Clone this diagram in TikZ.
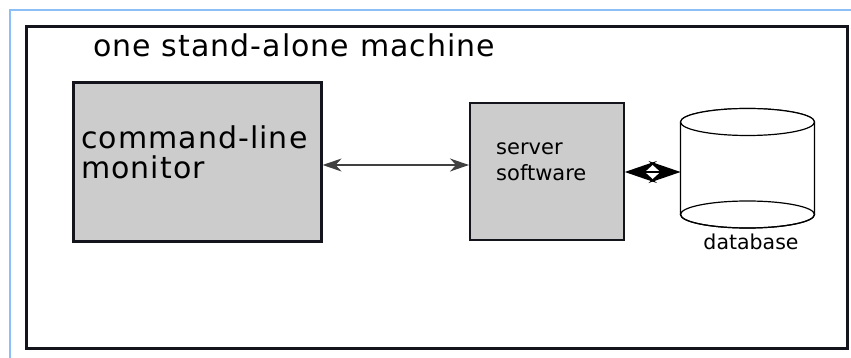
\documentclass[tikz,border=0pt]{standalone}
\usepackage{fontspec}
\setmainfont{DejaVu Sans}
\newfontfamily\spacedface[LetterSpace=3.5]{DejaVu Sans}
\usetikzlibrary{arrows.meta,calc}

\definecolor{framesky}{RGB}{140,190,248}
\definecolor{boxgray}{RGB}{204,204,204}
\definecolor{inkdark}{RGB}{20,20,28}

\tikzset{
  procbox/.style={draw=inkdark, fill=boxgray, inner sep=0pt, anchor=north west},
  boxtext/.style={anchor=base west, inner sep=0pt, align=left},
  bigtext/.style={font=\spacedface\fontsize{30}{30}\selectfont},
  thinlink/.style={draw=black!75, line width=1.3pt,
    {Stealth[length=19pt,width=13pt,inset=6pt]}-{Stealth[length=19pt,width=13pt,inset=6pt]}},
  heavylink/.style={draw=black, line width=1.3pt,
    {Stealth[length=32pt,width=22pt,inset=12pt]}-{Stealth[length=32pt,width=22pt,inset=12pt]}},
  drum/.style={draw=black, line width=1.2pt, fill=white}
}

\begin{document}
\begin{tikzpicture}[x=1pt,y=-1pt]
  \useasboundingbox (0,0) rectangle (851,358);

  % page frame and machine boundary
  \draw[framesky, line width=2pt] (9.5,10.5) rectangle (870,380);
  \node[draw=inkdark, line width=2.6pt, inner sep=0pt, anchor=north west,
        minimum width=821pt, minimum height=322pt] (machine) at (25,25) {};
  \node[boxtext, bigtext] (title) at (93,56.7)
    {one stand-alone machine};

  % command-line monitor (base anchor sits on the last line)
  \node[procbox, line width=2.6pt, minimum width=248pt, minimum height=159pt]
    (monitor) at (72,81) {};
  \node[boxtext, bigtext] (monitortext) at (81,179)
    {command-line\\monitor};

  % server software
  \node[procbox, line width=1.8pt, minimum width=154pt, minimum height=137pt]
    (server) at (469,102) {};
  \node[boxtext, font=\fontsize{21}{26}\selectfont] (servertext) at (496,181)
    {server\\software};

  % database cylinder
  \path[drum] (680.5,122) -- (680.5,214.5)
    arc[start angle=180, end angle=360, x radius=67pt, y radius=13.5pt]
    -- (814.5,122)
    arc[start angle=0, end angle=180, x radius=67pt, y radius=13.5pt] -- cycle;
  \draw[drum] (747.5,122) ellipse[x radius=67pt, y radius=13.5pt];
  \draw[drum, fill=none] (747.5,214.5) ellipse[x radius=67pt, y radius=13.5pt];
  \coordinate (dbwest) at (680.5,168);
  \node[anchor=base, inner sep=0pt, font=\fontsize{20.5}{24}\selectfont]
    (dblabel) at (751,249) {database};

  % connectors
  \coordinate (lvlA) at (0,165);
  \coordinate (lvlB) at (0,172);
  \draw[thinlink] (monitor.east |- lvlA) -- (server.west |- lvlA);
  \draw[heavylink] (server.east |- lvlB) -- (dbwest |- lvlB);
\end{tikzpicture}
\end{document}
